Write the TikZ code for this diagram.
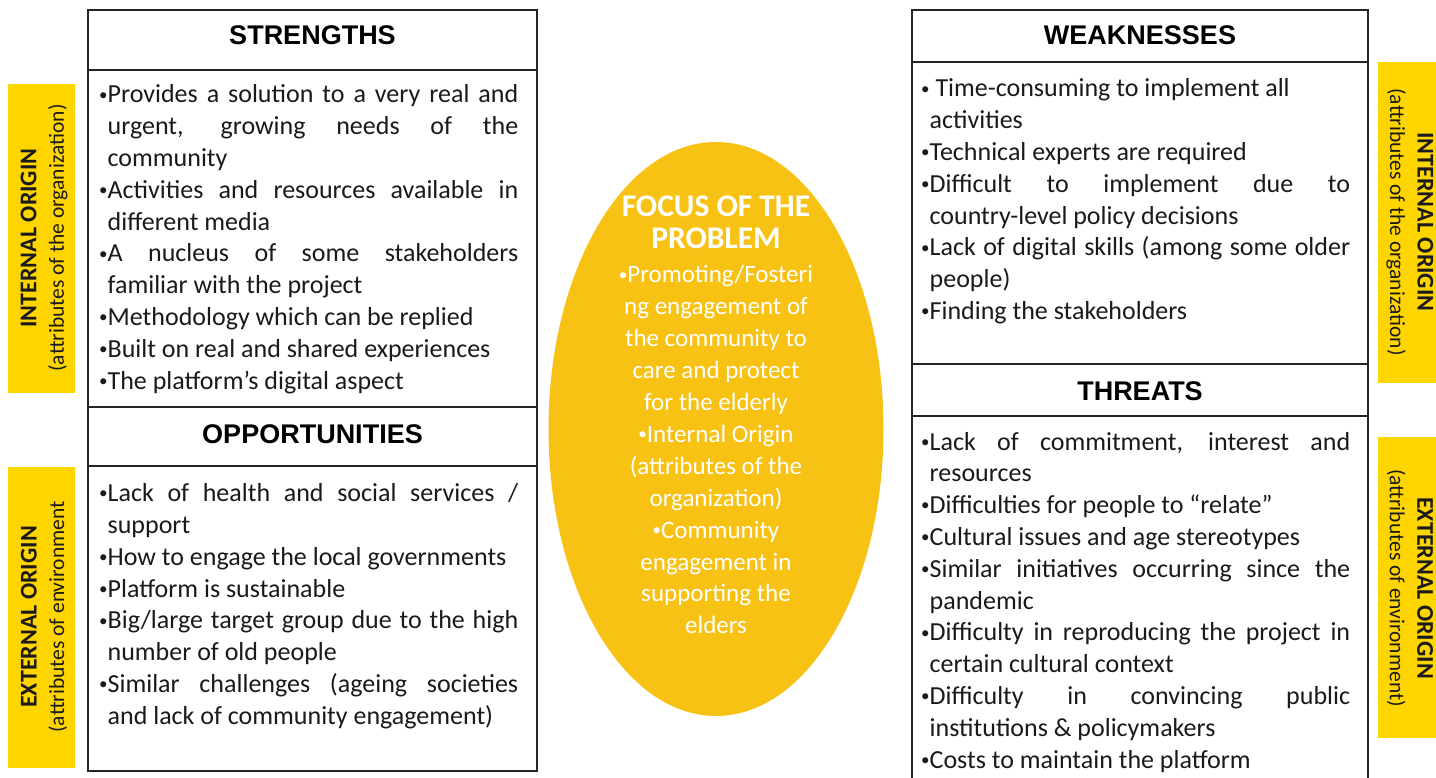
\documentclass[tikz,border=0pt]{standalone}
\usepackage{fontspec}
\setmainfont{Carlito}
\newfontfamily\headfont{Liberation Sans}
\usetikzlibrary{shapes.geometric}
\definecolor{lblyellow}{HTML}{FFD500}
\definecolor{ellyellow}{HTML}{F8C214}
\definecolor{txtcol}{HTML}{1A1A1A}
\newlength\tw
\newlength\bw
\newcommand\JL[1]{\hbox to \tw{#1}}
\newcommand\RL[1]{\hbox to \tw{#1\hfil}}
\newcommand\IN{\kern\bw\relax}
\newcommand\BUL{\raisebox{2.8pt}{\fontsize{17}{17}\selectfont•}}
\newcommand\CL[1]{\hbox to 300pt{\hss #1\hss}}
\begin{document}
\begin{tikzpicture}[x=1pt,y=-1pt,
  box/.style={draw=black!85, line width=2pt},
  hd/.style={font=\headfont\bfseries\fontsize{27}{30}\selectfont, anchor=base, inner sep=0pt, text=black},
  body/.style={anchor=base west, inner sep=0pt, text=txtcol, font=\fontsize{26}{31.8}\selectfont},
  side/.style={align=center, font=\fontsize{21.5}{27.5}\selectfont, inner sep=0pt, text=txtcol},
  sidebold/.style={font=\fontsize{24}{27.5}\selectfont\bfseries},
  etext/.style={anchor=base, inner sep=0pt, text=white}]
\useasboundingbox (0,0) rectangle (1436,778);
\fill[white] (0,0) rectangle (1436,778);

% side labels
\fill[lblyellow] (8,84) rectangle (75,393);
\fill[lblyellow] (8,467) rectangle (75,768);
\fill[lblyellow] (1378,62) rectangle (1440,383);
\fill[lblyellow] (1378,437) rectangle (1440,738);
\node[side, rotate=90] (lint) at (44,238) {{\fontsize{24}{27.5}\selectfont\bfseries INTERNAL ORIGIN}\\(attributes of the organization)};
\node[side, rotate=90] (lext) at (44,617) {{\fontsize{24}{27.5}\selectfont\bfseries EXTERNAL ORIGIN}\\(attributes of environment};
\node[side, rotate=-90] (rint) at (1410,222) {{\fontsize{24}{27.5}\selectfont\bfseries INTERNAL ORIGIN}\\(attributes of the organization)};
\node[side, rotate=-90] (rext) at (1410,588) {{\fontsize{24}{27.5}\selectfont\bfseries EXTERNAL ORIGIN}\\(attributes of environment)};

% boxes
\draw[box] (88,10) rectangle (537,771);
\draw[box] (88,70) -- (537,70);
\draw[box] (88,407) -- (537,407);
\draw[box] (88,466) -- (537,466);
\draw[box] (912,10) rectangle (1368,800);
\draw[box] (912,62) -- (1368,62);
\draw[box] (912,364) -- (1368,364);
\draw[box] (912,416) -- (1368,416);

% headers
\node[hd] (hs) at (312.5,45) {STRENGTHS};
\node[hd] (ho) at (312.5,443) {OPPORTUNITIES};
\node[hd] (hw) at (1140,45) {WEAKNESSES};
\node[hd] (ht) at (1140,400) {THREATS};

% strengths
\node[body] (bs) at (99,103) {\settowidth\bw{\BUL}\setlength\tw{419pt}\vtop{
\JL{\BUL Provides a solution to a very real and}
\JL{\IN urgent, growing needs of the}
\RL{\IN community}
\JL{\BUL Activities and resources available in}
\RL{\IN different media}
\JL{\BUL A nucleus of some stakeholders}
\RL{\IN familiar with the project}
\RL{\BUL Methodology which can be replied}
\RL{\BUL Built on real and shared experiences}
\RL{\BUL The platform’s digital aspect}}};

% opportunities
\node[body] (bo) at (99,501.7) {\settowidth\bw{\BUL}\setlength\tw{419pt}\vtop{
\JL{\BUL Lack of health and social services /}
\RL{\IN support}
\RL{\BUL How to engage the local governments}
\RL{\BUL Platform is sustainable}
\JL{\BUL Big/large target group due to the high}
\RL{\IN number of old people}
\JL{\BUL Similar challenges (ageing societies}
\RL{\IN and lack of community engagement)}}};

% weaknesses
\node[body] (bw) at (921,97) {\settowidth\bw{\BUL}\setlength\tw{429pt}\vtop{
\RL{\BUL\ Time-consuming to implement all}
\RL{\IN activities}
\RL{\BUL Technical experts are required}
\JL{\BUL Difficult to implement due to}
\RL{\IN country-level policy decisions}
\JL{\BUL Lack of digital skills (among some older}
\RL{\IN people)}
\RL{\BUL Finding the stakeholders}}};

% threats
\node[body] (bt) at (921,450) {\settowidth\bw{\BUL}\setlength\tw{429pt}\vtop{
\JL{\BUL Lack of commitment, interest and}
\RL{\IN resources}
\RL{\BUL Difficulties for people to “relate”}
\RL{\BUL Cultural issues and age stereotypes}
\JL{\BUL Similar initiatives occurring since the}
\RL{\IN pandemic}
\JL{\BUL Difficulty in reproducing the project in}
\RL{\IN certain cultural context}
\JL{\BUL Difficulty in convincing public}
\RL{\IN institutions \& policymakers}
\RL{\BUL Costs to maintain the platform}}};

% focus ellipse
\node[ellipse, fill=ellyellow, minimum width=335pt, minimum height=574pt, inner sep=0pt] (focus) at (716,429) {};
\node[etext, font=\bfseries\fontsize{31.5}{32}\selectfont] (ftitle) at (716,217) {\vtop{\baselineskip=32pt
\CL{FOCUS OF THE}
\CL{PROBLEM}}};
\node[etext, font=\fontsize{25}{31.9}\selectfont] (fbody) at (716,283) {\vtop{\baselineskip=31.9pt
\CL{\BUL Promoting/Fosteri}
\CL{ng engagement of}
\CL{the community to}
\CL{care and protect}
\CL{for the elderly}
\CL{\BUL Internal Origin}
\CL{(attributes of the}
\CL{organization)}
\CL{\BUL Community}
\CL{engagement in}
\CL{supporting the}
\CL{elders}}};
\end{tikzpicture}
\end{document}
